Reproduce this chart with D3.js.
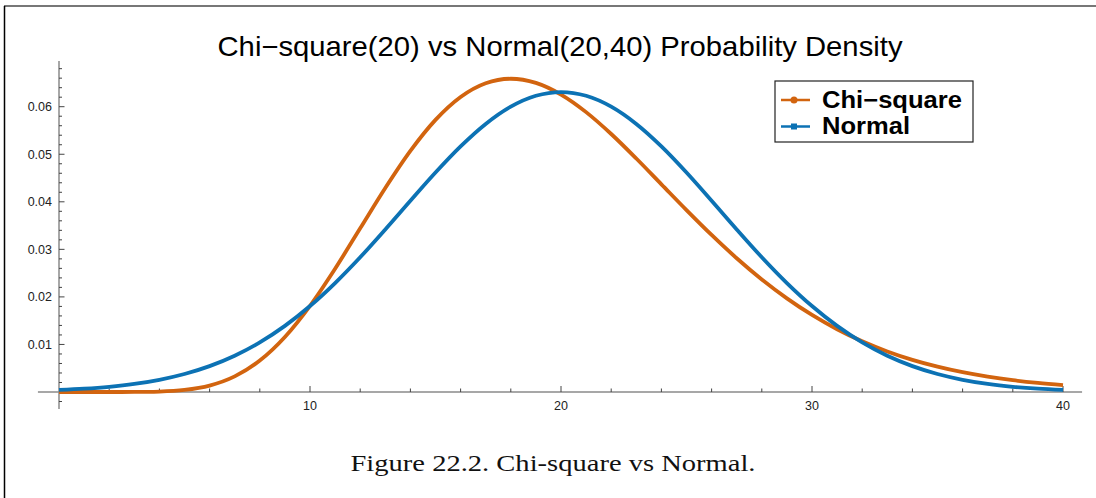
<!DOCTYPE html>
<html>
<head>
<meta charset="utf-8">
<script src="https://cdn.jsdelivr.net/npm/d3@7"></script>
<style>
  html, body { margin: 0; padding: 0; background: #fff; }
  svg { display: block; }
</style>
</head>
<body>
<svg id="chart" width="1096" height="498"></svg>
<script>
// values, one per integer x from 0 to 40
const xs = d3.range(0, 41)
const chiSquare = [
  0, 0, 0.0000005, 0.0000118, 0.0000954, 0.000431, 0.00135, 0.00328, 0.00662, 0.01158,
  0.01813, 0.02593, 0.03442, 0.04290, 0.05070, 0.05722, 0.06204, 0.06493, 0.06588, 0.06500,
  0.06255, 0.05886, 0.05426, 0.04910, 0.04368, 0.03826, 0.03303, 0.02813, 0.02367, 0.01969,
  0.01620, 0.01320, 0.01066, 0.00853, 0.00676, 0.00533, 0.00416, 0.00323, 0.00249, 0.00191,
  0.00145
]
const normal = [
  0.000425, 0.000692, 0.001099, 0.001702, 0.002571, 0.003788, 0.005443, 0.007628, 0.010427, 0.013899,
  0.018072, 0.022917, 0.028343, 0.034192, 0.040220, 0.046149, 0.051644, 0.056366, 0.060002, 0.062295,
  0.063078, 0.062295, 0.060002, 0.056366, 0.051644, 0.046149, 0.040220, 0.034192, 0.028343, 0.022917,
  0.018072, 0.013899, 0.010427, 0.007628, 0.005443, 0.003788, 0.002571, 0.001702, 0.001099, 0.000692,
  0.000425
]
const seriesNames = ['Chi\u2212square', 'Normal']
const xMajor = [10, 20, 30, 40]
const yMajor = [0.01, 0.02, 0.03, 0.04, 0.05, 0.06]

const colors = ['#d2640f', '#0c72b4']
const svg = d3.select('#chart')

// frame like the page crop
svg.append('line')
  .attr('x1', 4).attr('x2', 1096).attr('y1', 6).attr('y2', 6)
  .style('stroke', '#777').style('stroke-width', 2)
svg.append('line')
  .attr('x1', 4.5).attr('x2', 4.5).attr('y1', 6).attr('y2', 498)
  .style('stroke', '#000').style('stroke-width', 1.5)

const x = d3.scaleLinear().domain([0, 40]).range([59, 1063])
const y = d3.scaleLinear().domain([0, 0.06]).range([392, 106.7])

const axisColor = '#8a8a8a'

// x axis
const xAxis = svg.append('g').attr('class', 'x-axis')
xAxis.append('line')
  .attr('x1', x(-0.84)).attr('x2', x(40.76))
  .attr('y1', y(0)).attr('y2', y(0))
  .style('stroke', axisColor).style('stroke-width', 1.5)
xAxis.selectAll('.minor')
  .data(d3.range(2, 41, 2).filter(d => d % 10 !== 0))
  .enter().append('line')
  .attr('x1', d => x(d)).attr('x2', d => x(d))
  .attr('y1', y(0)).attr('y2', y(0) - 3.5)
  .style('stroke', '#444').style('stroke-width', 1)
xAxis.selectAll('.major')
  .data(xMajor)
  .enter().append('line')
  .attr('x1', d => x(d)).attr('x2', d => x(d))
  .attr('y1', y(0)).attr('y2', y(0) - 6)
  .style('stroke', '#444').style('stroke-width', 1)
xAxis.selectAll('text')
  .data(xMajor)
  .enter().append('text')
  .attr('x', d => x(d))
  .attr('y', y(0) + 18)
  .attr('text-anchor', 'middle')
  .style('font-family', '"Liberation Sans", Arial, sans-serif')
  .style('font-size', '12.5px')
  .style('fill', '#222')
  .text(d => d)

// y axis
const yAxis = svg.append('g').attr('class', 'y-axis')
yAxis.append('line')
  .attr('x1', x(0)).attr('x2', x(0))
  .attr('y1', 61).attr('y2', 409)
  .style('stroke', axisColor).style('stroke-width', 1.5)
yAxis.selectAll('.minor')
  .data(d3.range(-0.002, 0.0695, 0.002).filter(d => Math.abs(d * 100 - Math.round(d * 100)) > 1e-6))
  .enter().append('line')
  .attr('x1', x(0)).attr('x2', x(0) + 3)
  .attr('y1', d => y(d)).attr('y2', d => y(d))
  .style('stroke', '#444').style('stroke-width', 1)
yAxis.selectAll('.major')
  .data(yMajor)
  .enter().append('line')
  .attr('x1', x(0)).attr('x2', x(0) + 5.5)
  .attr('y1', d => y(d)).attr('y2', d => y(d))
  .style('stroke', '#444').style('stroke-width', 1)
yAxis.selectAll('text')
  .data(yMajor)
  .enter().append('text')
  .attr('x', x(0) - 7)
  .attr('y', d => y(d) + 4.5)
  .attr('text-anchor', 'end')
  .style('font-family', '"Liberation Sans", Arial, sans-serif')
  .style('font-size', '12.5px')
  .style('fill', '#222')
  .text(d => d.toFixed(2))

// curves
const line = d3.line()
  .x((d, i) => x(xs[i]))
  .y(d => y(d))
  .curve(d3.curveMonotoneX)

svg.selectAll('.curve')
  .data([chiSquare, normal])
  .enter().append('path')
  .attr('class', 'curve')
  .attr('d', d => line(d))
  .style('fill', 'none')
  .style('stroke', (d, i) => colors[i])
  .style('stroke-width', 3.8)
  .style('stroke-linejoin', 'round')

// title
svg.append('text')
  .attr('x', 560)
  .attr('y', 56)
  .attr('text-anchor', 'middle')
  .attr('textLength', 685)
  .attr('lengthAdjust', 'spacingAndGlyphs')
  .style('font-family', '"Liberation Sans", Arial, sans-serif')
  .style('font-size', '28px')
  .style('fill', '#000')
  .text('Chi\u2212square(20) vs Normal(20,40) Probability Density')

// legend
const legend = svg.append('g').attr('transform', 'translate(775,81)')
legend.append('rect')
  .attr('x', 0).attr('y', 0)
  .attr('width', 198).attr('height', 61)
  .style('fill', '#fff').style('stroke', '#222').style('stroke-width', 1.2)
const items = legend.selectAll('.item')
  .data(seriesNames)
  .enter().append('g')
  .attr('transform', (d, i) => `translate(0,${19 + i * 26.5})`)
items.append('line')
  .attr('x1', 6).attr('x2', 35).attr('y1', 0).attr('y2', 0)
  .style('stroke', (d, i) => colors[i]).style('stroke-width', 2.5)
items.filter((d, i) => i === 0).append('circle')
  .attr('cx', 19).attr('cy', 0).attr('r', 3.5)
  .style('fill', colors[0])
items.filter((d, i) => i === 1).append('rect')
  .attr('x', 16).attr('y', -3).attr('width', 6).attr('height', 6)
  .style('fill', colors[1])
items.append('text')
  .attr('x', 47)
  .attr('y', 7.5)
  .attr('textLength', (d, i) => [140, 88][i])
  .attr('lengthAdjust', 'spacingAndGlyphs')
  .style('font-family', '"Liberation Sans", Arial, sans-serif')
  .style('font-size', '23.5px')
  .style('font-weight', 'bold')
  .style('fill', '#000')
  .text(d => d)

// caption
svg.append('text')
  .attr('x', 553)
  .attr('y', 471)
  .attr('text-anchor', 'middle')
  .attr('textLength', 405)
  .attr('lengthAdjust', 'spacingAndGlyphs')
  .style('font-family', '"Liberation Serif", "Times New Roman", serif')
  .style('font-size', '23px')
  .style('fill', '#111')
  .text('Figure 22.2.  Chi-square vs Normal.')
</script>
</body>
</html>
